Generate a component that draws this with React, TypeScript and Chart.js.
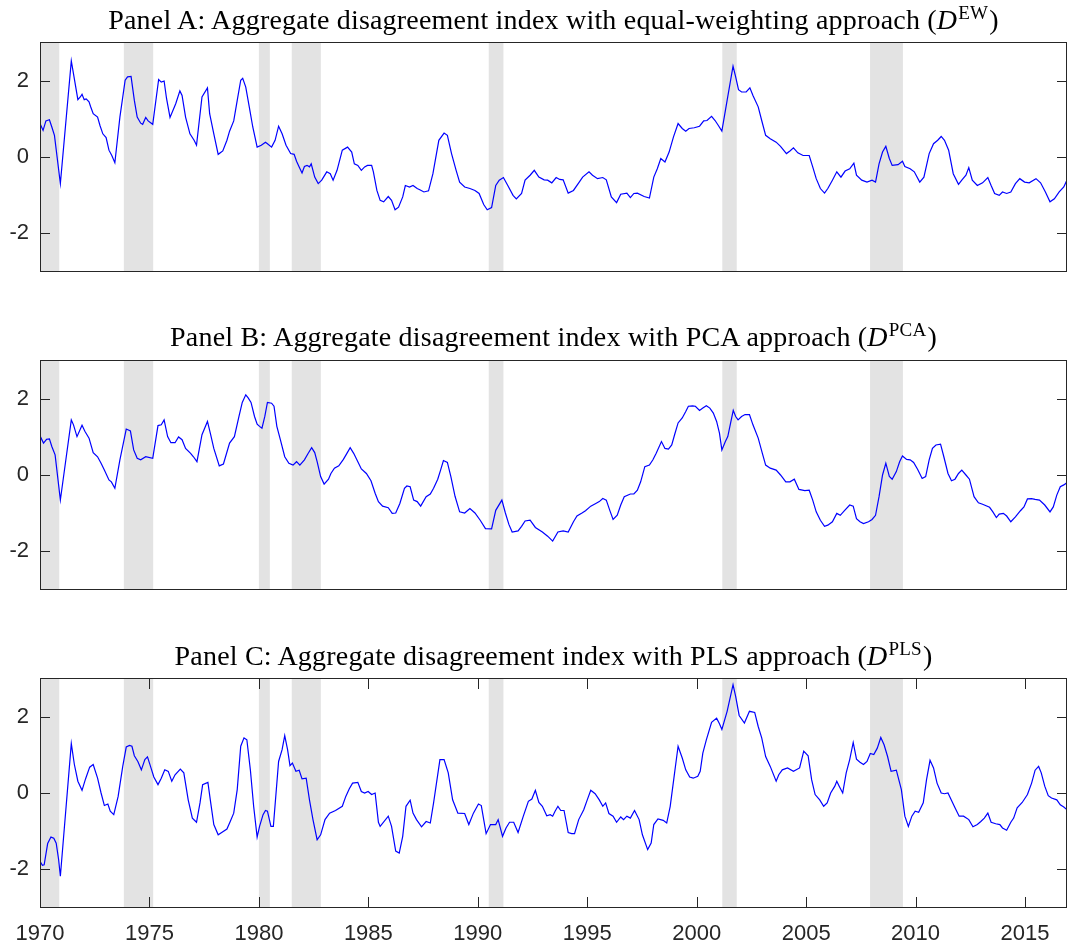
import React, { useEffect, useRef } from 'react';
import { Chart, registerables } from 'chart.js';

Chart.register(...registerables);

// ---------- data ----------
const xTickValues = [1970, 1975, 1980, 1985, 1990, 1995, 2000, 2005, 2010, 2015];
const yTickValues = [-2, 0, 2];
const xMin = 1970;
const xMax = 2016 + 11 / 12;
const yMin = -3;
const yMax = 3;

// NBER recessions (decimal years)
const recessionStarts = [1969.92, 1973.83, 1980.0, 1981.5, 1990.5, 2001.17, 2007.92];
const recessionEnds = [1970.88, 1975.17, 1980.5, 1982.83, 1991.17, 2001.83, 2009.42];

const titleA = 'Panel A: Aggregate disagreement index with equal-weighting approach (';
const titleB = 'Panel B: Aggregate disagreement index with PCA approach (';
const titleC = 'Panel C: Aggregate disagreement index with PLS approach (';
const supA = 'EW';
const supB = 'PCA';
const supC = 'PLS';

// Panel A: D^EW  [year, value]
const ewSeries: [number, number][] = [
  [1970.00, 0.88], [1970.14, 0.70], [1970.27, 0.95], [1970.43, 0.98], [1970.54, 0.79], [1970.66, 0.57],
  [1970.93, -0.70], [1971.43, 2.53], [1971.73, 1.51], [1971.84, 1.58], [1971.92, 1.65], [1972.02, 1.51],
  [1972.11, 1.53], [1972.24, 1.45], [1972.31, 1.33], [1972.43, 1.14], [1972.63, 1.05], [1972.74, 0.83],
  [1972.87, 0.61], [1973.02, 0.51], [1973.15, 0.18], [1973.28, 0.04], [1973.42, -0.15], [1973.65, 1.05],
  [1973.89, 2.02], [1974.00, 2.11], [1974.16, 2.12], [1974.31, 1.49], [1974.44, 1.05], [1974.60, 0.89],
  [1974.69, 0.86], [1974.83, 1.04], [1974.94, 0.95], [1975.15, 0.86], [1975.42, 2.04], [1975.54, 1.97],
  [1975.67, 2.00], [1975.78, 1.54], [1975.94, 1.04], [1976.20, 1.40], [1976.39, 1.74], [1976.49, 1.62],
  [1976.65, 1.05], [1976.85, 0.61], [1977.04, 0.44], [1977.15, 0.31], [1977.40, 1.58], [1977.65, 1.82],
  [1977.75, 1.14], [1977.94, 0.61], [1978.14, 0.07], [1978.35, 0.16], [1978.54, 0.44], [1978.66, 0.68],
  [1978.85, 0.95], [1979.01, 1.49], [1979.17, 2.02], [1979.26, 2.07], [1979.40, 1.84], [1979.56, 1.32],
  [1979.72, 0.79], [1979.92, 0.26], [1980.11, 0.31], [1980.30, 0.39], [1980.39, 0.35], [1980.58, 0.26],
  [1980.74, 0.44], [1980.90, 0.81], [1981.06, 0.61], [1981.24, 0.31], [1981.45, 0.09], [1981.61, 0.07],
  [1981.72, -0.11], [1981.84, -0.26], [1981.97, -0.42], [1982.08, -0.25], [1982.20, -0.22], [1982.31, -0.26],
  [1982.39, -0.18], [1982.55, -0.53], [1982.71, -0.70], [1982.87, -0.61], [1983.10, -0.39], [1983.26, -0.44],
  [1983.39, -0.61], [1983.57, -0.35], [1983.81, 0.18], [1984.05, 0.26], [1984.24, 0.13], [1984.36, -0.18],
  [1984.52, -0.22], [1984.68, -0.35], [1984.83, -0.26], [1984.96, -0.22], [1985.15, -0.22], [1985.23, -0.39],
  [1985.39, -0.88], [1985.54, -1.14], [1985.70, -1.18], [1985.91, -1.04], [1986.06, -1.14], [1986.22, -1.39],
  [1986.38, -1.32], [1986.57, -1.05], [1986.69, -0.75], [1986.88, -0.79], [1987.04, -0.75], [1987.23, -0.83],
  [1987.35, -0.86], [1987.54, -0.92], [1987.75, -0.89], [1987.95, -0.44], [1988.22, 0.44], [1988.46, 0.63],
  [1988.61, 0.57], [1988.80, 0.09], [1989.01, -0.35], [1989.17, -0.66], [1989.40, -0.79], [1989.64, -0.83],
  [1989.87, -0.88], [1990.06, -0.96], [1990.27, -1.25], [1990.43, -1.39], [1990.63, -1.33], [1990.82, -0.75],
  [1990.98, -0.61], [1991.17, -0.54], [1991.37, -0.75], [1991.61, -1.01], [1991.76, -1.10], [1992.00, -0.96],
  [1992.16, -0.61], [1992.39, -0.48], [1992.58, -0.35], [1992.79, -0.53], [1993.03, -0.60], [1993.19, -0.61],
  [1993.38, -0.68], [1993.58, -0.54], [1993.74, -0.59], [1993.90, -0.60], [1994.13, -0.95], [1994.37, -0.88],
  [1994.61, -0.68], [1994.79, -0.53], [1995.08, -0.39], [1995.24, -0.48], [1995.47, -0.57], [1995.71, -0.54],
  [1995.87, -0.60], [1996.10, -1.05], [1996.34, -1.20], [1996.53, -0.98], [1996.81, -0.95], [1996.97, -1.07],
  [1997.13, -0.96], [1997.29, -0.95], [1997.60, -1.04], [1997.84, -1.08], [1998.04, -0.53], [1998.20, -0.31],
  [1998.36, -0.04], [1998.55, -0.13], [1998.74, 0.13], [1998.94, 0.53], [1999.15, 0.88], [1999.34, 0.75],
  [1999.50, 0.68], [1999.65, 0.75], [1999.89, 0.77], [2000.13, 0.81], [2000.32, 0.95], [2000.47, 0.96],
  [2000.68, 1.07], [2000.84, 0.96], [2000.99, 0.83], [2001.15, 0.68], [2001.39, 1.49], [2001.66, 2.39],
  [2001.78, 2.11], [2001.91, 1.77], [2002.05, 1.71], [2002.26, 1.71], [2002.43, 1.82], [2002.57, 1.62],
  [2002.81, 1.32], [2002.97, 0.96], [2003.15, 0.57], [2003.36, 0.48], [2003.63, 0.39], [2003.83, 0.28],
  [2004.10, 0.09], [2004.26, 0.16], [2004.42, 0.24], [2004.62, 0.11], [2004.86, 0.04], [2005.14, 0.04],
  [2005.30, -0.26], [2005.46, -0.57], [2005.65, -0.83], [2005.84, -0.95], [2005.99, -0.83], [2006.20, -0.61],
  [2006.40, -0.39], [2006.59, -0.53], [2006.78, -0.37], [2006.99, -0.31], [2007.18, -0.16], [2007.30, -0.48],
  [2007.54, -0.61], [2007.78, -0.66], [2008.01, -0.61], [2008.17, -0.66], [2008.33, -0.18], [2008.49, 0.13],
  [2008.64, 0.28], [2008.80, -0.04], [2008.93, -0.22], [2009.20, -0.20], [2009.40, -0.11], [2009.51, -0.25],
  [2009.75, -0.31], [2009.94, -0.39], [2010.19, -0.66], [2010.38, -0.53], [2010.62, 0.09], [2010.82, 0.35],
  [2011.01, 0.44], [2011.17, 0.54], [2011.32, 0.44], [2011.51, 0.18], [2011.72, -0.44], [2011.96, -0.72],
  [2012.11, -0.61], [2012.30, -0.48], [2012.43, -0.28], [2012.59, -0.61], [2012.82, -0.75], [2013.06, -0.68],
  [2013.30, -0.54], [2013.45, -0.75], [2013.61, -0.96], [2013.82, -1.01], [2013.97, -0.92], [2014.16, -0.96],
  [2014.35, -0.92], [2014.56, -0.70], [2014.76, -0.57], [2014.98, -0.66], [2015.19, -0.68], [2015.50, -0.57],
  [2015.71, -0.68], [2015.93, -0.92], [2016.14, -1.18], [2016.34, -1.10], [2016.56, -0.92], [2016.77, -0.79],
  [2016.92, -0.60],
];

// Panel B: D^PCA
const pcaSeries: [number, number][] = [
  [1970.00, 1.03], [1970.16, 0.84], [1970.30, 0.94], [1970.43, 0.95], [1970.54, 0.75], [1970.69, 0.53],
  [1970.93, -0.66], [1971.43, 1.45], [1971.53, 1.32], [1971.69, 1.01], [1971.92, 1.31], [1972.05, 1.15],
  [1972.24, 0.97], [1972.43, 0.59], [1972.63, 0.48], [1972.79, 0.31], [1972.94, 0.13], [1973.15, -0.13],
  [1973.26, -0.18], [1973.42, -0.35], [1973.65, 0.40], [1973.94, 1.21], [1974.13, 1.16], [1974.28, 0.66],
  [1974.44, 0.44], [1974.60, 0.40], [1974.83, 0.48], [1975.15, 0.44], [1975.39, 1.30], [1975.54, 1.32],
  [1975.67, 1.45], [1975.83, 1.01], [1975.98, 0.85], [1976.17, 0.85], [1976.33, 1.00], [1976.49, 0.93],
  [1976.65, 0.70], [1976.88, 0.57], [1977.01, 0.48], [1977.17, 0.35], [1977.40, 1.06], [1977.65, 1.41],
  [1977.78, 1.10], [1977.94, 0.70], [1978.19, 0.24], [1978.38, 0.29], [1978.66, 0.84], [1978.88, 1.01],
  [1979.09, 1.54], [1979.24, 1.91], [1979.40, 2.11], [1979.51, 2.03], [1979.64, 1.91], [1979.80, 1.54],
  [1979.92, 1.34], [1980.03, 1.28], [1980.14, 1.23], [1980.27, 1.54], [1980.39, 1.91], [1980.58, 1.89],
  [1980.69, 1.81], [1980.82, 1.28], [1980.98, 0.93], [1981.18, 0.48], [1981.37, 0.31], [1981.56, 0.26],
  [1981.72, 0.35], [1981.87, 0.26], [1982.08, 0.40], [1982.24, 0.56], [1982.41, 0.72], [1982.55, 0.59],
  [1982.66, 0.35], [1982.82, -0.04], [1982.98, -0.24], [1983.18, -0.11], [1983.29, 0.04], [1983.45, 0.18],
  [1983.65, 0.24], [1983.86, 0.41], [1984.02, 0.57], [1984.17, 0.72], [1984.33, 0.57], [1984.52, 0.35],
  [1984.68, 0.16], [1984.91, 0.04], [1985.12, -0.15], [1985.31, -0.48], [1985.46, -0.70], [1985.65, -0.82],
  [1985.91, -0.86], [1986.09, -1.01], [1986.25, -1.00], [1986.44, -0.75], [1986.65, -0.35], [1986.76, -0.29],
  [1986.91, -0.31], [1987.07, -0.66], [1987.23, -0.70], [1987.39, -0.82], [1987.64, -0.57], [1987.83, -0.50],
  [1987.98, -0.35], [1988.17, -0.11], [1988.30, 0.13], [1988.43, 0.38], [1988.61, 0.33], [1988.77, -0.04],
  [1988.96, -0.56], [1989.17, -0.97], [1989.40, -1.00], [1989.64, -0.88], [1989.87, -1.00], [1990.11, -1.19],
  [1990.35, -1.41], [1990.63, -1.42], [1990.82, -0.93], [1991.10, -0.66], [1991.26, -1.00], [1991.42, -1.30],
  [1991.57, -1.50], [1991.84, -1.47], [1992.00, -1.35], [1992.16, -1.21], [1992.39, -1.19], [1992.63, -1.38],
  [1992.95, -1.50], [1993.19, -1.61], [1993.42, -1.74], [1993.66, -1.50], [1993.90, -1.47], [1994.13, -1.50],
  [1994.37, -1.23], [1994.53, -1.08], [1994.76, -1.00], [1994.92, -0.94], [1995.16, -0.82], [1995.39, -0.75],
  [1995.55, -0.70], [1995.71, -0.62], [1995.87, -0.66], [1996.03, -0.93], [1996.18, -1.17], [1996.37, -1.06],
  [1996.53, -0.79], [1996.69, -0.57], [1996.97, -0.50], [1997.13, -0.50], [1997.29, -0.40], [1997.44, -0.18],
  [1997.63, 0.22], [1997.84, 0.26], [1998.00, 0.40], [1998.15, 0.57], [1998.39, 0.88], [1998.55, 0.70],
  [1998.71, 0.68], [1998.86, 0.79], [1998.99, 1.06], [1999.15, 1.37], [1999.34, 1.50], [1999.50, 1.67],
  [1999.62, 1.81], [1999.81, 1.82], [1999.94, 1.81], [2000.13, 1.70], [2000.28, 1.76], [2000.44, 1.82],
  [2000.60, 1.76], [2000.76, 1.63], [2000.91, 1.41], [2001.04, 1.10], [2001.15, 0.66], [2001.31, 0.88],
  [2001.42, 1.01], [2001.55, 1.37], [2001.67, 1.70], [2001.78, 1.54], [2001.89, 1.45], [2002.05, 1.54],
  [2002.21, 1.59], [2002.41, 1.59], [2002.57, 1.32], [2002.81, 0.97], [2003.00, 0.57], [2003.15, 0.26],
  [2003.36, 0.18], [2003.63, 0.13], [2003.83, 0.00], [2004.07, -0.18], [2004.26, -0.18], [2004.46, -0.11],
  [2004.67, -0.38], [2004.94, -0.41], [2005.14, -0.40], [2005.30, -0.66], [2005.46, -0.97], [2005.65, -1.19],
  [2005.84, -1.35], [2005.99, -1.32], [2006.20, -1.23], [2006.40, -1.01], [2006.56, -1.06], [2006.75, -0.94],
  [2006.99, -0.79], [2007.15, -0.82], [2007.30, -1.15], [2007.46, -1.23], [2007.62, -1.28], [2007.85, -1.23],
  [2008.01, -1.17], [2008.17, -1.06], [2008.33, -0.57], [2008.49, 0.00], [2008.64, 0.31], [2008.80, -0.04],
  [2008.93, -0.11], [2009.12, 0.09], [2009.27, 0.35], [2009.40, 0.50], [2009.59, 0.41], [2009.75, 0.40],
  [2009.91, 0.33], [2010.09, 0.15], [2010.30, -0.09], [2010.46, -0.04], [2010.62, 0.40], [2010.77, 0.70],
  [2010.93, 0.79], [2011.14, 0.81], [2011.29, 0.48], [2011.48, 0.04], [2011.64, -0.15], [2011.80, -0.11],
  [2011.96, 0.04], [2012.11, 0.13], [2012.30, 0.00], [2012.46, -0.11], [2012.67, -0.57], [2012.87, -0.73],
  [2013.06, -0.77], [2013.38, -0.85], [2013.53, -0.97], [2013.69, -1.12], [2013.82, -1.03], [2014.01, -1.01],
  [2014.16, -1.08], [2014.35, -1.23], [2014.56, -1.10], [2014.79, -0.94], [2014.95, -0.84], [2015.11, -0.63],
  [2015.30, -0.62], [2015.46, -0.64], [2015.66, -0.66], [2015.90, -0.79], [2016.14, -0.97], [2016.29, -0.84],
  [2016.45, -0.53], [2016.61, -0.31], [2016.77, -0.26], [2016.92, -0.20],
];

// Panel C: D^PLS
const plsSeries: [number, number][] = [
  [1970.00, -1.80], [1970.11, -1.90], [1970.19, -1.89], [1970.35, -1.33], [1970.50, -1.16], [1970.63, -1.19],
  [1970.74, -1.32], [1970.85, -1.75], [1970.93, -2.19], [1971.43, 1.30], [1971.57, 0.75], [1971.73, 0.31],
  [1971.92, 0.07], [1972.08, 0.37], [1972.27, 0.68], [1972.43, 0.75], [1972.63, 0.39], [1972.79, 0.00],
  [1972.94, -0.33], [1973.10, -0.29], [1973.21, -0.48], [1973.37, -0.57], [1973.57, -0.09], [1973.78, 0.70],
  [1973.94, 1.21], [1974.09, 1.25], [1974.20, 1.23], [1974.31, 0.98], [1974.47, 0.83], [1974.63, 0.61],
  [1974.79, 0.88], [1974.91, 0.95], [1975.07, 0.66], [1975.20, 0.42], [1975.39, 0.22], [1975.54, 0.39],
  [1975.70, 0.61], [1975.86, 0.57], [1976.02, 0.31], [1976.17, 0.48], [1976.41, 0.63], [1976.57, 0.53],
  [1976.77, -0.18], [1976.96, -0.66], [1977.15, -0.77], [1977.31, -0.26], [1977.43, 0.22], [1977.67, 0.28],
  [1977.78, -0.18], [1977.94, -0.83], [1978.14, -1.10], [1978.30, -1.04], [1978.54, -0.95], [1978.69, -0.75],
  [1978.85, -0.53], [1979.01, 0.09], [1979.17, 1.23], [1979.32, 1.45], [1979.45, 1.40], [1979.61, 0.61],
  [1979.76, -0.35], [1979.92, -1.16], [1980.03, -0.88], [1980.19, -0.57], [1980.30, -0.46], [1980.39, -0.48],
  [1980.55, -0.88], [1980.66, -0.88], [1980.90, 0.83], [1981.06, 1.14], [1981.18, 1.51], [1981.31, 1.14],
  [1981.42, 0.72], [1981.53, 0.79], [1981.69, 0.57], [1981.84, 0.60], [1981.97, 0.37], [1982.16, 0.39],
  [1982.31, -0.18], [1982.47, -0.70], [1982.66, -1.23], [1982.82, -1.10], [1983.02, -0.70], [1983.23, -0.53],
  [1983.50, -0.46], [1983.81, -0.35], [1983.97, -0.09], [1984.13, 0.11], [1984.28, 0.26], [1984.52, 0.28],
  [1984.68, 0.04], [1984.83, 0.00], [1984.99, 0.04], [1985.15, -0.04], [1985.31, 0.00], [1985.46, -0.77],
  [1985.54, -0.88], [1985.91, -0.61], [1986.06, -0.88], [1986.25, -1.53], [1986.41, -1.58], [1986.57, -1.14],
  [1986.72, -0.35], [1986.91, -0.19], [1987.04, -0.53], [1987.20, -0.70], [1987.43, -0.89], [1987.64, -0.75],
  [1987.83, -0.79], [1987.98, -0.26], [1988.27, 0.88], [1988.46, 0.88], [1988.65, 0.53], [1988.85, -0.18],
  [1989.09, -0.53], [1989.40, -0.54], [1989.59, -0.83], [1989.80, -0.53], [1990.03, -0.29], [1990.16, -0.33],
  [1990.38, -1.07], [1990.58, -0.83], [1990.82, -0.83], [1990.93, -0.70], [1991.13, -1.14], [1991.29, -0.92],
  [1991.45, -0.77], [1991.64, -0.77], [1991.84, -1.04], [1992.08, -0.61], [1992.31, -0.22], [1992.47, -0.16],
  [1992.63, 0.07], [1992.79, -0.25], [1992.95, -0.35], [1993.15, -0.60], [1993.31, -0.57], [1993.42, -0.61],
  [1993.53, -0.48], [1993.66, -0.35], [1993.79, -0.46], [1993.94, -0.46], [1994.13, -1.04], [1994.29, -1.07],
  [1994.42, -1.07], [1994.61, -0.70], [1994.84, -0.44], [1995.00, -0.18], [1995.16, 0.07], [1995.36, -0.02],
  [1995.55, -0.18], [1995.71, -0.35], [1995.84, -0.26], [1995.99, -0.54], [1996.18, -0.61], [1996.34, -0.77],
  [1996.53, -0.63], [1996.66, -0.70], [1996.81, -0.61], [1996.97, -0.66], [1997.16, -0.46], [1997.37, -0.70],
  [1997.52, -1.10], [1997.76, -1.49], [1997.92, -1.32], [1998.04, -0.83], [1998.23, -0.68], [1998.47, -0.72],
  [1998.63, -0.79], [1998.79, -0.35], [1998.99, 0.53], [1999.15, 1.23], [1999.34, 0.92], [1999.50, 0.61],
  [1999.68, 0.42], [1999.84, 0.39], [2000.05, 0.44], [2000.16, 0.57], [2000.28, 1.05], [2000.44, 1.40],
  [2000.68, 1.86], [2000.91, 1.97], [2001.04, 1.82], [2001.15, 1.67], [2001.39, 2.15], [2001.66, 2.85],
  [2001.78, 2.54], [2001.94, 2.04], [2002.18, 1.84], [2002.41, 2.15], [2002.65, 2.12], [2002.81, 1.75],
  [2002.97, 1.45], [2003.15, 0.96], [2003.36, 0.70], [2003.63, 0.31], [2003.75, 0.48], [2003.91, 0.61],
  [2004.15, 0.66], [2004.42, 0.57], [2004.70, 0.66], [2004.89, 1.10], [2005.09, 0.98], [2005.25, 0.35],
  [2005.41, -0.04], [2005.62, -0.18], [2005.80, -0.35], [2005.96, -0.26], [2006.12, 0.00], [2006.31, 0.18],
  [2006.40, 0.31], [2006.51, 0.18], [2006.67, 0.00], [2006.83, 0.53], [2006.99, 0.88], [2007.15, 1.33],
  [2007.30, 0.89], [2007.46, 0.81], [2007.62, 0.75], [2007.78, 0.83], [2007.93, 1.04], [2008.09, 1.01],
  [2008.25, 1.18], [2008.41, 1.46], [2008.56, 1.27], [2008.72, 0.96], [2008.88, 0.57], [2009.12, 0.60],
  [2009.35, 0.09], [2009.51, -0.61], [2009.67, -0.88], [2009.83, -0.61], [2009.98, -0.48], [2010.14, -0.51],
  [2010.35, -0.26], [2010.50, 0.35], [2010.66, 0.86], [2010.82, 0.66], [2010.98, 0.26], [2011.17, 0.00],
  [2011.32, -0.02], [2011.48, 0.00], [2011.61, -0.16], [2011.80, -0.39], [2011.99, -0.61], [2012.19, -0.61],
  [2012.43, -0.70], [2012.62, -0.89], [2012.82, -0.83], [2012.98, -0.75], [2013.14, -0.66], [2013.30, -0.53],
  [2013.45, -0.77], [2013.66, -0.81], [2013.85, -0.83], [2013.97, -0.92], [2014.16, -0.98], [2014.35, -0.77],
  [2014.48, -0.66], [2014.64, -0.39], [2014.87, -0.25], [2015.11, -0.04], [2015.30, 0.26], [2015.46, 0.60],
  [2015.62, 0.70], [2015.74, 0.53], [2015.90, 0.18], [2016.06, -0.07], [2016.21, -0.13], [2016.45, -0.18],
  [2016.61, -0.31], [2016.77, -0.37], [2016.92, -0.44],
];

// ---------- styling ----------
const AXIS_COLOR = '#262626';
const SHADE_COLOR = '#e3e3e3';
const LINE_COLOR = '#0000ff';
const TICK_FONT = '"Liberation Sans", Arial, Helvetica, sans-serif';
const TITLE_FONT = '"Liberation Serif", "Times New Roman", serif';
const TICK_LEN = 10;

function framePlugin(showXTicks: boolean) {
  return {
    id: 'frame',
    beforeDatasetsDraw(chart: any) {
      const { ctx, chartArea, scales } = chart;
      const { left, right, top, bottom } = chartArea;
      ctx.save();
      ctx.fillStyle = SHADE_COLOR;
      recessionStarts.forEach((s, i) => {
        const a = Math.max(left, scales.x.getPixelForValue(s));
        const b = Math.min(right, scales.x.getPixelForValue(recessionEnds[i]));
        if (b > a) ctx.fillRect(a, top, b - a, bottom - top);
      });
      ctx.restore();
    },
    afterDatasetsDraw(chart: any) {
      const { ctx, chartArea, scales } = chart;
      const { left, right, top, bottom } = chartArea;
      ctx.save();
      ctx.strokeStyle = AXIS_COLOR;
      ctx.lineWidth = 1;
      ctx.beginPath();
      yTickValues.forEach((v) => {
        const y = Math.round(scales.y.getPixelForValue(v)) + 0.5;
        ctx.moveTo(left, y);
        ctx.lineTo(left + TICK_LEN, y);
        ctx.moveTo(right, y);
        ctx.lineTo(right - TICK_LEN, y);
      });
      if (showXTicks) {
        xTickValues.forEach((v) => {
          const x = Math.round(scales.x.getPixelForValue(v)) + 0.5;
          ctx.moveTo(x, bottom);
          ctx.lineTo(x, bottom - TICK_LEN);
          ctx.moveTo(x, top);
          ctx.lineTo(x, top + TICK_LEN);
        });
      }
      ctx.stroke();
      ctx.strokeRect(left + 0.5, top - 0.5, right - left - 1, bottom - top + 1);
      ctx.restore();
    },
  };
}

type PanelProps = {
  series: [number, number][];
  showX: boolean;
  top: number;
  height: number;
  xAxisHeight: number;
};

function Panel({ series, showX, top, height, xAxisHeight }: PanelProps) {
  const ref = useRef<HTMLCanvasElement | null>(null);
  useEffect(() => {
    if (!ref.current) return;
    const chart = new Chart(ref.current, {
      type: 'line',
      data: {
        datasets: [
          {
            data: series.map(([x, y]) => ({ x, y })),
            borderColor: LINE_COLOR,
            borderWidth: 1.2,
            pointRadius: 0,
            tension: 0,
            fill: false,
          },
        ],
      },
      options: {
        animation: false,
        responsive: false,
        devicePixelRatio: 1,
        layout: { padding: { top: 43, right: 3, bottom: 0, left: 0 } },
        plugins: { legend: { display: false }, tooltip: { enabled: false }, title: { display: false } },
        scales: {
          x: {
            type: 'linear',
            min: xMin,
            max: xMax,
            afterBuildTicks: (s: any) => {
              s.ticks = xTickValues.map((v) => ({ value: v }));
            },
            afterFit: (s: any) => {
              s.height = xAxisHeight;
            },
            grid: { display: false, drawTicks: false },
            border: { display: false },
            ticks: {
              display: showX,
              padding: 14,
              autoSkip: false,
              maxRotation: 0,
              color: AXIS_COLOR,
              font: { family: TICK_FONT, size: 22 },
              callback: (v: any) => String(v),
            },
          },
          y: {
            type: 'linear',
            min: yMin,
            max: yMax,
            afterBuildTicks: (s: any) => {
              s.ticks = yTickValues.map((v) => ({ value: v }));
            },
            afterFit: (s: any) => {
              s.width = 40;
            },
            grid: { display: false, drawTicks: false },
            border: { display: false },
            ticks: {
              padding: 11,
              color: AXIS_COLOR,
              font: { family: TICK_FONT, size: 22 },
              callback: (v: any) => String(v),
            },
          },
        },
      },
      plugins: [framePlugin(showX)],
    } as any);
    return () => chart.destroy();
  }, [series, showX, xAxisHeight]);
  return (
    <canvas
      ref={ref}
      width={1070}
      height={height}
      style={{ position: 'absolute', left: 0, top, width: 1070, height, display: 'block' }}
    />
  );
}

function PanelTitle({ top, text, sup }: { top: number; text: string; sup: string }) {
  return (
    <div
      style={{
        position: 'absolute',
        left: 40,
        width: 1027,
        top,
        textAlign: 'center',
        fontFamily: TITLE_FONT,
        fontSize: 28,
        lineHeight: '28px',
        letterSpacing: '0.2px',
        color: '#000',
        whiteSpace: 'nowrap',
      }}
    >
      {text}
      <i>D</i>
      <sup style={{ fontSize: '0.68em', lineHeight: 0, verticalAlign: '0.5em', marginLeft: 1, marginRight: 1 }}>{sup}</sup>)
    </div>
  );
}

export default function App() {
  return (
    <div style={{ position: 'absolute', left: 0, top: 0, width: 1070, height: 951, background: '#fff' }}>
      <Panel series={ewSeries} showX={false} top={0} height={318} xAxisHeight={47} />
      <Panel series={pcaSeries} showX={false} top={318} height={318} xAxisHeight={47} />
      <Panel series={plsSeries} showX={true} top={636} height={315} xAxisHeight={44} />
      <PanelTitle top={6} text={titleA} sup={supA} />
      <PanelTitle top={323} text={titleB} sup={supB} />
      <PanelTitle top={642} text={titleC} sup={supC} />
    </div>
  );
}
